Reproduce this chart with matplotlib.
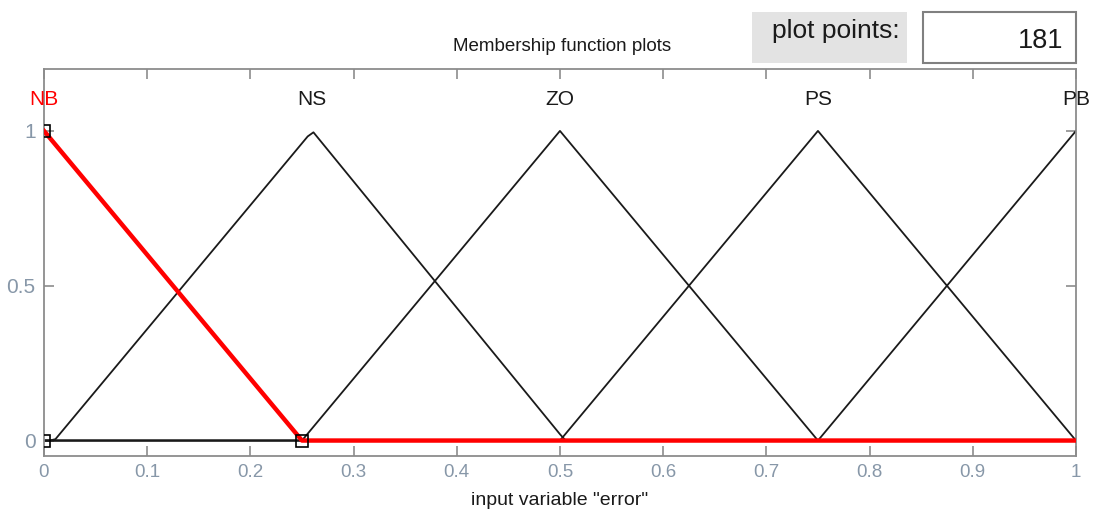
import matplotlib.pyplot as plt
import numpy as np
from matplotlib.patches import Rectangle

plt.rcParams["font.family"] = ["Liberation Sans", "DejaVu Sans"]

# membership functions of input "error" (trimf parameters)
MF_NAMES = ["NB", "NS", "ZO", "PS", "PB"]
MF_PARAMS = [
    [-0.25, 0.0, 0.25],
    [0.01, 0.26, 0.505],
    [0.25, 0.50, 0.75],
    [0.50, 0.75, 1.00],
    [0.75, 1.00, 1.25],
]
SELECTED = "NB"
N_POINTS = 181
X_TICKS = [0, 0.1, 0.2, 0.3, 0.4, 0.5, 0.6, 0.7, 0.8, 0.9, 1]
Y_TICKS = [0, 0.5, 1]

TICK_COLOR = "#8797a8"
SPINE_COLOR = "#8c8c8c"


def trimf(x, a, b, c):
    return np.maximum(np.minimum((x - a) / (b - a), (c - x) / (c - b)), 0)


x = np.linspace(0, 1, N_POINTS)

fig = plt.figure(figsize=(10.94, 5.14), dpi=100)
ax = fig.add_axes([0.0402, 0.1128, 0.9433, 0.753])

for name, (a, b, c) in zip(MF_NAMES, MF_PARAMS):
    y = trimf(x, a, b, c)
    if name == SELECTED:
        ax.plot(x, y, color="#ff0000", linewidth=3.2, zorder=3)
        # vertex handles
        ax.plot([0, 0, b + 0.25], [1, 0, 0], linestyle="none", marker="s",
                markersize=9, markerfacecolor="none", markeredgecolor="black",
                markeredgewidth=1.2, zorder=4)
        lab_color = "#ff0000"
    else:
        ax.plot(x, y, color="#1a1a1a", linewidth=1.3, zorder=2)
        lab_color = "#1a1a1a"
    ax.text(min(max(b, 0), 1), 1.1, name, ha="center", va="center",
            fontsize=15, color=lab_color)

ax.set_xlim(0, 1)
ax.set_ylim(-0.05, 1.2)
ax.set_xticks(X_TICKS, [f"{t:g}" for t in X_TICKS])
ax.set_yticks(Y_TICKS, [f"{t:g}" for t in Y_TICKS])
ax.tick_params(direction="in", top=True, right=True, length=7, width=1.2,
               color=SPINE_COLOR, labelcolor=TICK_COLOR, labelsize=13.5, pad=6)
ax.tick_params(axis="y", pad=6, labelsize=15)
for sp in ax.spines.values():
    sp.set_color(SPINE_COLOR)
    sp.set_linewidth(1.3)

ax.set_xlabel('input variable "error"', fontsize=14, color="#1a1a1a", labelpad=8)
fig.text(0.514, 0.909, "Membership function plots", ha="center", va="center",
         fontsize=13.5, color="#1a1a1a")

# "plot points" controls
fig.patches.append(Rectangle((752 / 1094, 1 - 63 / 514), 155 / 1094, 51 / 514,
                             transform=fig.transFigure, facecolor="#e3e3e3",
                             edgecolor="none"))
fig.text(836 / 1094, 1 - 31 / 514, "plot points:", ha="center", va="center",
         fontsize=19, color="#1a1a1a")
fig.patches.append(Rectangle((923 / 1094, 1 - 63 / 514), 153 / 1094, 51 / 514,
                             transform=fig.transFigure, facecolor="white",
                             edgecolor="#808080", linewidth=1.5))
fig.text(1063 / 1094, 1 - 41 / 514, str(N_POINTS), ha="right", va="center",
         fontsize=19.5, color="#1a1a1a")

fig.savefig("out.png", dpi=100)
